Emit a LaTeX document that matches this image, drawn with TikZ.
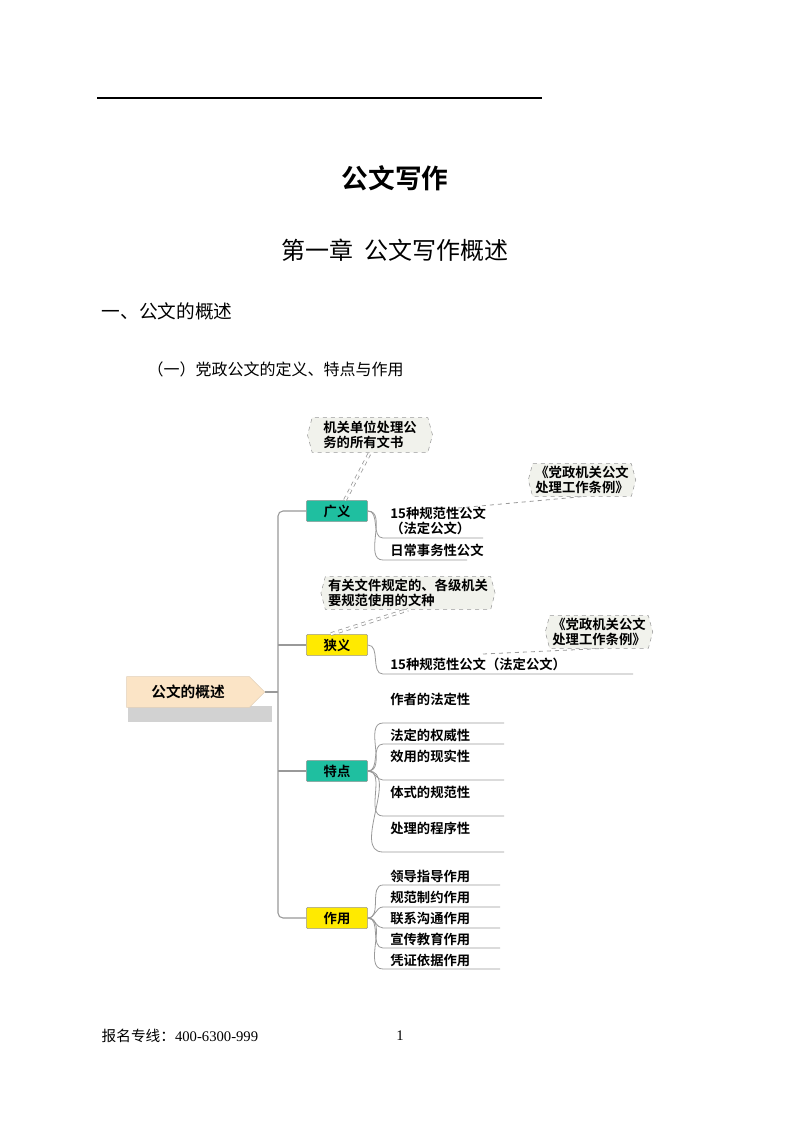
\documentclass[tikz,border=0pt]{standalone}
\usepackage{fontspec}
\setmainfont{Liberation Serif}
\newfontfamily\cjk{Noto Sans CJK SC}
\newfontfamily\cjkb{Noto Sans CJK SC Bold}
\usetikzlibrary{shapes.symbols,shapes.misc}
\definecolor{teal1}{HTML}{1FBFA0}
\definecolor{yel1}{HTML}{FFEA00}
\definecolor{beige}{HTML}{FBE4C6}
\definecolor{callfill}{HTML}{F1F2EC}
\definecolor{lgray}{HTML}{999999}
\begin{document}
\begin{tikzpicture}[x=0.75pt,y=-0.75pt,
  lbl/.style={font=\cjkb\fontsize{10}{11}\selectfont,inner sep=0pt,anchor=south west},
  tagbox/.style={draw=lgray,minimum width=46pt,minimum height=16pt,inner sep=0pt,font=\cjkb\fontsize{10}{11}\selectfont,rounded corners=1pt},
  callout/.style={signal,signal to=east and west,draw=lgray,dashed,fill=callfill,font=\cjkb\fontsize{10}{11}\selectfont,align=left,inner sep=2pt,signal pointer angle=150},
  br/.style={draw=lgray,line width=0.8pt},
  cn/.style={draw=lgray,dashed,line width=0.6pt}]
\useasboundingbox (0,0) rectangle (800,1124);
\fill[white] (0,0) rectangle (800,1124);
\draw[line width=0.8pt] (97,98) -- (542,98);
\node[font=\cjkb\fontsize{20}{22}\selectfont] (t1) at (395,178) {公文写作};
\node[font=\cjk\fontsize{18}{20}\selectfont] (t2) at (395,250) {第一章\ \ 公文写作概述};
\node[font=\cjk\fontsize{14}{16}\selectfont,anchor=west] (t3) at (97,311) {一、公文的概述};
\node[font=\cjk\fontsize{12}{14}\selectfont,anchor=west] (t4) at (143,369) {（一）党政公文的定义、特点与作用};
% root
\fill[gray!35] (128,706) rectangle (272,722);
\node[signal,signal to=east,fill=beige,draw=beige!80!gray,minimum height=23pt,text width=88pt,inner sep=2pt,align=center,font=\cjkb\fontsize{11}{12}\selectfont] (root) at (188,692) {公文的概述};
% tags
\node[tagbox,fill=teal1] (g) at (337,511) {广义};
\node[tagbox,fill=yel1] (x) at (337,645) {狭义};
\node[tagbox,fill=teal1] (d) at (337,771) {特点};
\node[tagbox,fill=yel1] (z) at (337,918) {作用};
\coordinate (tr) at (278,692);
\draw[br] (root.east) -- (tr);
\draw[br] (g.west) -- (283,511) to[out=180,in=90] (278,516) -- (278,913) to[out=-90,in=180] (283,918) -- (z.west);
\draw[br] (x.west) -- (278,645);
\draw[br] (d.west) -- (278,771);
% callouts
\node[callout,minimum width=125pt*0.75,minimum height=26pt] (c1) at (370,435) {机关单位处理公\\务的所有文书};
\node[callout] (c2) at (582,480) {《党政机关公文\\处理工作条例》};
\node[callout] (c3) at (408,593) {有关文件规定的、各级机关\\要规范使用的文种};
\node[callout] (c4) at (599,632) {《党政机关公文\\处理工作条例》};
% generic child lines
\newcommand\kid[5]{% parent, y, xend, text, name
  \coordinate (#5) at (383,#2);
  \draw[br,line width=0.6pt] (#1.east) to[out=0,in=180] (#5) -- (#3,#2);
}
\kid{g}{538}{483}{}{g1}
\kid{g}{560}{467}{}{g2}
\node[lbl,align=left,anchor=north west] (g1t) at (390,507) {15种规范性公文\\（法定公文）};
\node[lbl] (g2t) at (390,557) {日常事务性公文};
\kid{x}{674}{633}{}{x1}
\node[lbl] (x1t) at (390,671) {15种规范性公文（法定公文）};
\node[lbl] (d0t) at (390,706) {作者的法定性};
\kid{d}{723}{504}{}{d1}
\kid{d}{744}{504}{}{d2}
\kid{d}{780}{504}{}{d3}
\kid{d}{816}{504}{}{d4}
\kid{d}{852}{504}{}{d5}
\node[lbl] (d1t) at (390,742) {法定的权威性};
\node[lbl] (d2t) at (390,763) {效用的现实性};
\node[lbl] (d3t) at (390,799) {体式的规范性};
\node[lbl] (d4t) at (390,835) {处理的程序性};
\kid{z}{885}{500}{}{z1}
\kid{z}{907}{500}{}{z2}
\kid{z}{928}{500}{}{z3}
\kid{z}{948}{500}{}{z4}
\kid{z}{969}{500}{}{z5}
\node[lbl] (z1t) at (390,883) {领导指导作用};
\node[lbl] (z2t) at (390,904) {规范制约作用};
\node[lbl] (z3t) at (390,925) {联系沟通作用};
\node[lbl] (z4t) at (390,946) {宣传教育作用};
\node[lbl] (z5t) at (390,967) {凭证依据作用};
% callout connectors
\draw[cn,double=white,double distance=1.5pt] (g.north) ++(8,0) coordinate (gn) -- (c1.south);
\draw[cn] (g1.east) ++(75,-30) coordinate (g1e) -- (c2.south);
\draw[cn,double=white,double distance=1.5pt] (x.north) ++(-6,0) coordinate (xn) -- (c3.south);
\draw[cn] (x1) ++(100,-20) coordinate (x1e) -- (c4.south);
% footer
\node[font=\cjk\fontsize{11}{13}\selectfont,anchor=west] (f1) at (97,1036) {报名专线：\fontspec{Liberation Serif}400-6300-999};
\node[font=\fontsize{11}{13}\selectfont] (f2) at (400,1036) {1};
\end{tikzpicture}
\end{document}
